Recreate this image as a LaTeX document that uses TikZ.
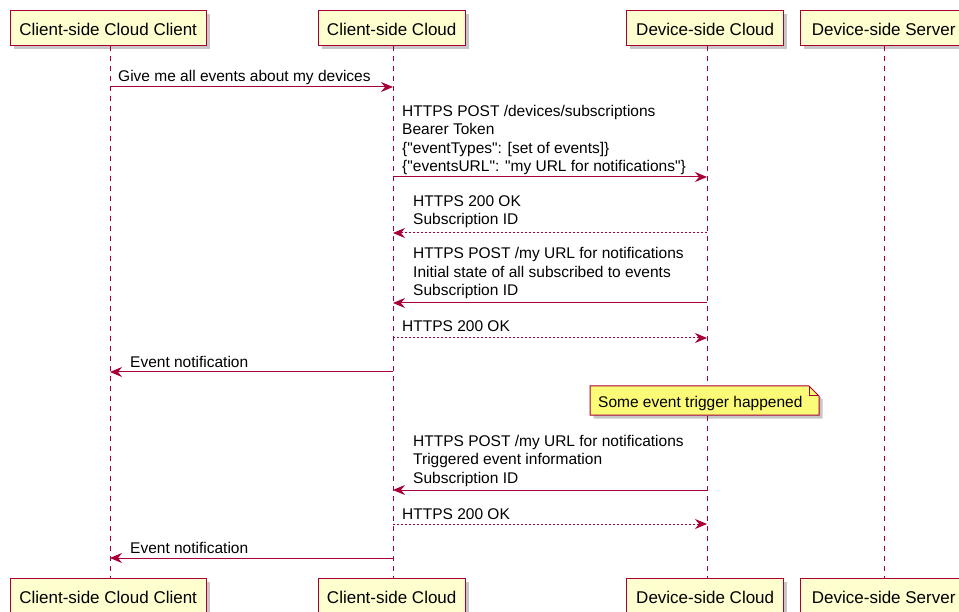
\documentclass[tikz,border=0pt]{standalone}
\usepackage{fontspec}
\setmainfont{Liberation Sans}
\newfontfamily\umlfont{Liberation Sans}
\usetikzlibrary{arrows.meta,shadows}
\definecolor{umlred}{HTML}{A80036}
\definecolor{umlfill}{HTML}{FEFECE}
\definecolor{notefill}{HTML}{FBFB77}
\begin{document}
\begin{tikzpicture}[x=1pt,y=-1pt,
  part/.style={draw=umlred, line width=1.4pt, fill=umlfill,
    font=\umlfont\fontsize{17}{20}\selectfont, text height=15pt, text depth=0pt,
    minimum height=35pt, inner xsep=0pt, anchor=north west,
    drop shadow={shadow xshift=3.5pt, shadow yshift=-3.5pt, fill=black, opacity=0.22}},
  life/.style={draw=umlred, line width=1pt, dash pattern=on 5pt off 5pt},
  msg/.style={draw=umlred, line width=1pt, -{Stealth[length=12pt, width=10pt, inset=4pt]}},
  reply/.style={msg, dash pattern=on 2pt off 2pt},
  lbl/.style={font=\umlfont\fontsize{15.5}{18.5}\selectfont, inner sep=0pt, anchor=base west, align=left},
  notebox/.style={draw=umlred, line width=1pt, fill=notefill,
    drop shadow={shadow xshift=3.5pt, shadow yshift=-3.5pt, fill=black, opacity=0.22}}
]
\useasboundingbox (0,0) rectangle (959,612);
\fill[white] (0,0) rectangle (959,612);

% participants (top)
\node[part, minimum width=196pt] (A1) at (9.5,10) {Client-side Cloud Client};
\node[part, minimum width=147pt] (B1) at (317.5,10) {Client-side Cloud};
\node[part, minimum width=157pt] (C1) at (626,10) {Device-side Cloud};
\node[part, minimum width=166pt] (D1) at (800,10) {Device-side Server};
% participants (bottom)
\node[part, minimum width=196pt] (A2) at (9.5,578) {Client-side Cloud Client};
\node[part, minimum width=147pt] (B2) at (317.5,578) {Client-side Cloud};
\node[part, minimum width=157pt] (C2) at (626,578) {Device-side Cloud};
\node[part, minimum width=166pt] (D2) at (800,578) {Device-side Server};

% lifelines
\coordinate (la) at (110,0);
\coordinate (lb) at (393,0);
\coordinate (lc) at (707,0);
\coordinate (ld) at (884,0);
\draw[life] (la|-A1.south) -- (la|-A2.north);
\draw[life] (lb|-B1.south) -- (lb|-B2.north);
\draw[life] (lc|-C1.south) -- (lc|-C2.north);
\draw[life] (ld|-D1.south) -- (ld|-D2.north);

% message rows
\coordinate (m1) at (0,87);
\coordinate (m2) at (0,177);
\coordinate (m3) at (0,233);
\coordinate (m4) at (0,303);
\coordinate (m5) at (0,338);
\coordinate (m6) at (0,372);
\coordinate (m8) at (0,490);
\coordinate (m9) at (0,524);
\coordinate (m10) at (0,558);

\draw[msg] (la|-m1) -- (lb|-m1);
\node[lbl] (t1) at (118,82) {Give me all events about my devices};

\draw[msg] (lb|-m2) -- (lc|-m2);
\node[lbl] (t2) at (402,172) {HTTPS POST /devices/subscriptions\\Bearer Token\\\{"eventTypes": [set of events]\}\\\{"eventsURL": "my URL for notifications"\}};

\draw[reply] (lc|-m3) -- (lb|-m3);
\node[lbl] (t3) at (413,225) {HTTPS 200 OK\\Subscription ID};

\draw[msg] (lc|-m4) -- (lb|-m4);
\node[lbl] (t4) at (413,296) {HTTPS POST /my URL for notifications\\Initial state of all subscribed to events\\Subscription ID};

\draw[reply] (lb|-m5) -- (lc|-m5);
\node[lbl] (t5) at (402,332) {HTTPS 200 OK};

\draw[msg] (lb|-m6) -- (la|-m6);
\node[lbl] (t6) at (130,367) {Event notification};

% note
\draw[notebox] (590,386) -- (809,386) -- (819,396) -- (819,415) -- (590,415) -- cycle;
\draw[umlred, line width=1pt] (809,386) -- (809,396) -- (819,396);
\node[lbl] (note) at (598,407) {Some event trigger happened};

\draw[msg] (lc|-m8) -- (lb|-m8);
\node[lbl] (t8) at (413,483) {HTTPS POST /my URL for notifications\\Triggered event information\\Subscription ID};

\draw[reply] (lb|-m9) -- (lc|-m9);
\node[lbl] (t9) at (402,519) {HTTPS 200 OK};

\draw[msg] (lb|-m10) -- (la|-m10);
\node[lbl] (t10) at (130,553) {Event notification};
\end{tikzpicture}
\end{document}
